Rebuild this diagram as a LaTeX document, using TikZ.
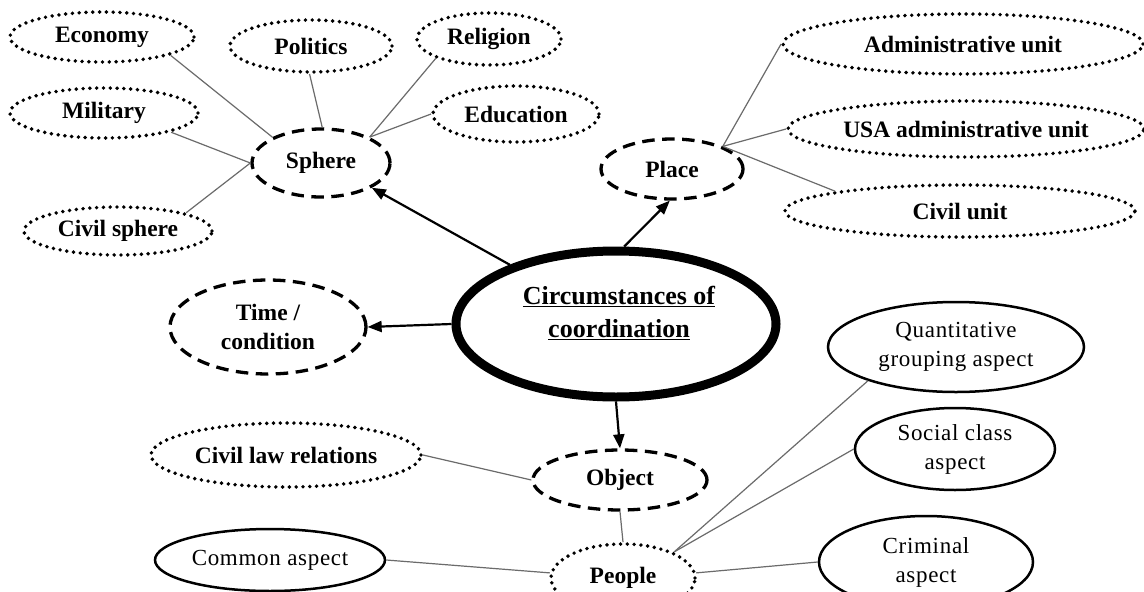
\documentclass[tikz,border=0pt]{standalone}
\usepackage{fontspec}
\setmainfont{Liberation Serif}
\newfontfamily\regfont[LetterSpace=3]{Liberation Serif}
\usetikzlibrary{shapes.geometric,arrows.meta}
\tikzset{
  ell/.style={ellipse, inner sep=0pt, font=\fontsize{23.5}{29}\selectfont\bfseries, align=center},
  dotell/.style={ell, draw, line width=3.9pt, dash pattern=on 0pt off 6.8pt, line cap=round},
  dashell/.style={ell, draw, line width=3.3pt, dash pattern=on 12.5pt off 7.5pt},
  solell/.style={ell, draw, line width=2.5pt, font=\regfont\fontsize{23}{29}\selectfont},
  mainell/.style={ell, draw, line width=9pt},
  maintext/.style={font=\fontsize{26}{33}\selectfont\bfseries, align=center, inner sep=0pt},
  link/.style={draw=black!58, line width=1.2pt},
  arr/.style={draw=black, line width=2.2pt, -{Triangle[length=14pt,width=11pt]}},
}
\begin{document}
\begin{tikzpicture}[x=1pt,y=-1pt]
\useasboundingbox[fill=white] (0,0) rectangle (1144,592);
% Sphere group
\node[dotell, minimum width=184pt, minimum height=50pt] (econ) at (102,37) {Economy};
\node[dotell, minimum width=162pt, minimum height=52pt] (pol) at (311,46) {Politics};
\node[dotell, minimum width=144pt, minimum height=52pt] (rel) at (489,39) {Religion};
\node[dotell, minimum width=188pt, minimum height=50pt] (mil) at (104,113) {Military};
\node[dotell, minimum width=166pt, minimum height=56pt] (edu) at (516,114) {Education};
\node[dashell, minimum width=138pt, minimum height=68pt] (sph) at (321,163) {Sphere};
\node[dotell, minimum width=188pt, minimum height=48pt] (civs) at (118,231) {Civil sphere};
% Place group
\node[dashell, minimum width=142pt, minimum height=60pt] (place) at (672,169) {Place};
\node[dotell, minimum width=360pt, minimum height=60pt] (adm) at (963,44) {Administrative unit};
\node[dotell, minimum width=356pt, minimum height=56pt] (usa) at (966,129) {USA administrative unit};
\node[dotell, minimum width=350pt, minimum height=52pt] (cu) at (960,211) {Civil unit};
% centre
\node[mainell, minimum width=320pt, minimum height=146pt] (circ) at (616,324) {};
\node[maintext] (circtext) at (619,313) {\underline{Circumstances of}\\\underline{coordination}};
\node[dashell, minimum width=196pt, minimum height=94pt] (time) at (268,327) {Time /\\condition};
% Object group
\node[solell, minimum width=256pt, minimum height=90pt] (quant) at (956,347) {Quantitative\\grouping aspect};
\node[solell, minimum width=200pt, minimum height=82pt] (soc) at (955,449) {Social class\\aspect};
\node[dotell, minimum width=270pt, minimum height=64pt] (clr) at (286,455) {Civil law relations};
\node[dashell, minimum width=174pt, minimum height=60pt] (obj) at (620,480) {Object};
\node[dotell, minimum width=144pt, minimum height=68pt] (ppl) at (623,578) {People};
\node[solell, minimum width=230pt, minimum height=62pt] (com) at (270,560) {Common aspect};
\node[solell, minimum width=214pt, minimum height=92pt] (crim) at (926,562) {Criminal\\aspect};
% arrows
\draw[arr] (circ) -- (sph.-26);
\draw[arr] (circ.84) -- (place.-94);
\draw[arr] (circ.west) -- (time.east);
\draw[arr] (circ.south) -- (obj.north);
% links
\draw[link] (econ.-15) -- (sph.152);
\draw[link] (pol.-93) -- (sph.88);
\draw[link] (rel.200) -- (sph.28);
\draw[link] (edu.180) -- (sph.28);
\draw[link] (mil.-16) -- (sph.180);
\draw[link] (civs.15) -- (sph.180);
\draw[link] (place.24) -- (adm.180);
\draw[link] (place.24) -- (usa.180);
\draw[link] (place.24) -- (cu.171);
\draw[link] (clr.east) -- (obj.west);
\draw[link] (obj.south) -- (ppl.north);
\draw[link] (com.east) -- (ppl.176);
\draw[link] (quant.201) -- (ppl.27);
\draw[link] (soc.180) -- (ppl.27);
\draw[link] (crim.180) -- (ppl.4);
\end{tikzpicture}
\end{document}
